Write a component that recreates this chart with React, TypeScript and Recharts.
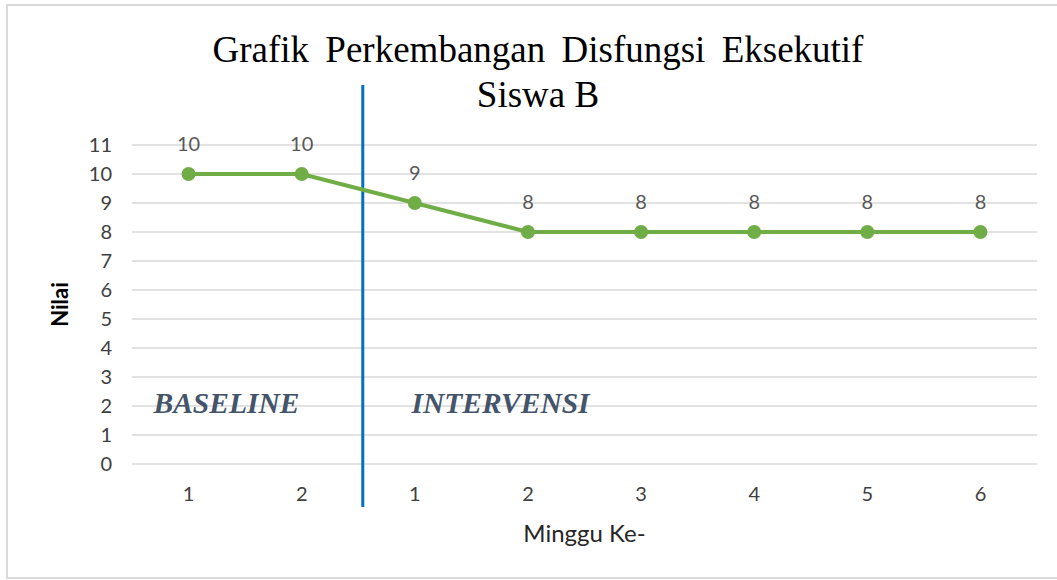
import React from "react";
import {
  LineChart,
  Line,
  XAxis,
  YAxis,
  CartesianGrid,
  LabelList,
  ReferenceLine,
  ReferenceDot,
} from "recharts";

// week labels on the x axis (baseline 1-2, then intervensi 1-6)
const weeks = ["1", "2", "1", "2", "3", "4", "5", "6"];
const nilai = [10, 10, 9, 8, 8, 8, 8, 8];
const yTicks = [0, 1, 2, 3, 4, 5, 6, 7, 8, 9, 10, 11];
const phases = [
  { name: "BASELINE", at: 0.69 },
  { name: "INTERVENSI", at: 2.97 },
];
const phaseSplit = 2.54;

const data = weeks.map((w, i) => ({ x: i + 1, week: w, nilai: nilai[i] }));

const FONT = "Lato, 'Open Sans', sans-serif";
const SERIF = "'Liberation Serif', 'Times New Roman', serif";

function PhaseLabel(props: any) {
  const { viewBox, value } = props;
  return (
    <text
      x={viewBox.x}
      y={viewBox.y}
      dy="0.35em"
      textAnchor="start"
      fontFamily={SERIF}
      fontWeight="bold"
      fontStyle="italic"
      fontSize={29.5}
      fill="#44546A"
    >
      {value}
    </text>
  );
}

export default function App() {
  return (
    <div
      style={{
        position: "absolute",
        left: 0,
        top: 0,
        width: 1057,
        height: 580,
        overflow: "hidden",
        background: "#fff",
      }}
    >
      <div
        style={{
          position: "absolute",
          left: 6,
          top: 4,
          width: 1080,
          height: 571,
          border: "2px solid #d9d9d9",
        }}
      />
      <div
        style={{
          position: "absolute",
          left: 0,
          top: 27,
          width: 1076,
          textAlign: "center",
          fontFamily: SERIF,
          fontSize: 37,
          lineHeight: "45px",
          color: "#000",
        }}
      >
        <div style={{ wordSpacing: 7 }}>Grafik Perkembangan Disfungsi Eksekutif</div>
        <div>Siswa B</div>
      </div>
      <div style={{ position: "absolute", left: 0, top: 0 }}>
        <LineChart
          width={1057}
          height={580}
          data={data}
          margin={{ top: 145, right: 20, bottom: 0, left: 0 }}
        >
          <CartesianGrid vertical={false} stroke="#d9d9d9" strokeWidth={1.5} />
          <XAxis
            dataKey="x"
            type="number"
            domain={[0.5, 8.5]}
            ticks={data.map((d) => d.x)}
            tickFormatter={(v: number) => weeks[v - 1]}
            axisLine={false}
            tickLine={false}
            tickSize={6}
            tickMargin={17}
            height={116}
            tick={{ fontSize: 20, fill: "#404040", fontFamily: FONT }}
            label={{
              value: "Minggu Ke-",
              position: "insideBottom",
              offset: 38,
              fontSize: 24,
              fill: "#262626",
              fontFamily: FONT,
            }}
          />
          <YAxis
            domain={[0, 11]}
            ticks={yTicks}
            interval={0}
            axisLine={false}
            tickLine={false}
            tickSize={6}
            tickMargin={14}
            width={132}
            tick={{ fontSize: 20, fill: "#404040", fontFamily: FONT }}
            label={{
              value: "Nilai",
              angle: -90,
              position: "center",
              dx: -6,
              fontSize: 22,
              fontWeight: "bold",
              fill: "#000",
              fontFamily: FONT,
            }}
          />
          <ReferenceLine
            segment={[
              { x: phaseSplit, y: 13.07 },
              { x: phaseSplit, y: -1.48 },
            ]}
            stroke="#0070C0"
            strokeWidth={3}
            ifOverflow="visible"
          />
          {phases.map((p) => (
            <ReferenceDot
              key={p.name}
              x={p.at}
              y={2.1}
              r={0}
              fill="none"
              stroke="none"
              ifOverflow="visible"
              label={{ value: p.name, content: PhaseLabel }}
            />
          ))}
          <Line
            type="linear"
            dataKey="nilai"
            stroke="#70AD47"
            strokeWidth={4}
            dot={{ r: 7, fill: "#70AD47", stroke: "#70AD47", strokeWidth: 0 }}
            activeDot={false}
            isAnimationActive={false}
          >
            <LabelList
              dataKey="nilai"
              position="top"
              offset={23}
              fontSize={20}
              fill="#595959"
              fontFamily={FONT}
            />
          </Line>
        </LineChart>
      </div>
    </div>
  );
}
